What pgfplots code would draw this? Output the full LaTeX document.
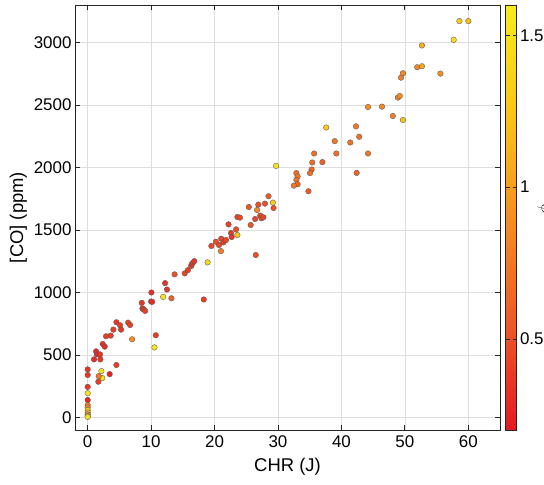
\documentclass[border=0pt]{standalone}
\usepackage{pgfplots}
\pgfplotsset{compat=1.18}
\usepackage{pgfplotstable}
\usepackage{fontspec}
\setmainfont{Liberation Sans}
\usetikzlibrary{calc}

% CHR (J), [CO] (ppm), colour value
\pgfplotstableread{
x y c
0 385 0.35
0 340 0.35
0 245 0.35
0 195 1.55
0 140 0.25
0 100 0.8
0 80 0.85
0 60 1.3
0 40 1.2
0 25 0.9
0 12 1.45
0 5 1.5
1.0 465 0.3
1.32 529 0.3
1.47 505 0.25
1.95 505 0.35
2.0 465 0.35
2.16 371 1.5
2.3 315 1.45
1.74 331 0.75
1.68 286 0.4
3.47 347 0.25
4.53 420 0.4
2.37 588 0.35
2.68 567 0.3
2.9 650 0.4
3.63 655 0.4
4.05 703 0.4
4.53 762 0.35
5.1 738 0.4
5.26 703 0.35
6.37 759 0.45
6.68 740 0.4
7.0 626 0.9
8.53 917 0.35
8.63 872 0.35
8.84 864 0.35
9.05 853 0.4
10.05 1000 0.3
10.0 928 0.25
10.15 925 0.3
10.74 658 0.4
10.53 561 1.55
11.9 965 1.5
13.2 954 0.6
12.2 1075 0.35
12.5 1024 0.35
13.7 1145 0.5
15.3 1153 0.45
15.8 1179 0.4
16.3 1211 0.45
16.4 1225 0.4
16.6 1238 0.35
16.8 1251 0.35
18.3 944 0.4
18.9 1241 1.4
19.5 1372 0.45
20.2 1406 0.5
20.7 1380 0.45
21.05 1430 0.45
21.4 1401 0.4
21.8 1420 0.45
21.0 1331 0.8
22.6 1476 0.4
22.7 1444 0.35
23.4 1505 0.5
23.6 1460 1.25
22.2 1545 0.4
23.6 1604 0.45
24.0 1599 0.45
25.4 1684 0.55
25.7 1540 0.55
26.5 1300 0.5
26.4 1588 0.45
26.7 1660 0.85
26.9 1703 0.5
27.2 1615 0.45
27.4 1594 0.45
27.7 1602 0.45
27.95 1711 0.5
28.5 1770 0.55
29.2 1719 1.3
29.3 1676 0.5
29.7 2013 1.55
32.9 1955 0.7
33.1 1928 0.75
32.9 1901 0.7
33.1 1866 0.65
32.5 1855 0.75
34.8 1810 0.55
35.4 2040 0.7
35.3 1984 0.65
35.05 1955 0.7
35.7 2112 0.7
37.0 2043 0.6
37.6 2320 1.3
38.95 2211 0.75
39.2 2112 0.7
41.4 2200 0.7
42.3 2329 0.75
42.8 2246 0.7
42.4 1957 0.6
44.2 2112 0.75
44.2 2484 0.9
46.4 2487 0.85
48.1 2412 0.8
49.7 2380 1.25
48.9 2559 0.85
49.2 2572 0.9
49.4 2719 0.8
49.7 2754 0.85
51.95 2802 0.85
52.7 2810 1.05
52.7 2976 1.1
55.6 2751 0.9
57.7 3021 1.45
58.6 3171 1.3
60.0 3171 1.2
}\codata

\begin{document}
\begin{tikzpicture}
\begin{axis}[
  name=main,
  scale only axis,
  width=425bp, height=425bp,
  xmin=-2, xmax=65, ymin=-100, ymax=3300,
  xtick={0,10,...,60}, ytick={0,500,...,3000},
  grid=major, grid style={black!13, line width=0.6bp},
  axis line style={black!85, line width=0.8bp},
  tick align=inside, major tick length=5bp,
  tick style={black!85, line width=0.8bp},
  /pgf/number format/assume math mode=true,
  scaled y ticks=false,
  yticklabel style={/pgf/number format/1000 sep={}},
  xticklabel style={yshift=-2bp},
  ticklabel style={font=\fontsize{17}{20}\selectfont},
  label style={font=\fontsize{18.5}{22}\selectfont},
  xlabel style={yshift=-4bp},
  xlabel={CHR (J)}, ylabel={[CO] (ppm)},
  colormap={co}{rgb255=(228,26,34) rgb255=(238,88,38) rgb255=(245,142,32) rgb255=(250,198,22) rgb255=(246,236,28)},
  point meta min=0.2, point meta max=1.6,
  colorbar,
  colorbar style={
    width=11bp,
    at={(parent axis.north east)}, anchor=north west, xshift=-3bp,
    ytick={0.5,1,1.5},
    tick align=inside, major tick length=4bp,
    axis line style={black!85, line width=0.8bp},
    tick style={black!85, line width=0.8bp},
    /pgf/number format/assume math mode=true,
    yticklabel style={font=\fontsize{17}{20}\selectfont},
  },
]
\addplot[scatter, only marks, mark=*, mark size=2.8bp, point meta=explicit,
  scatter/use mapped color={draw=black!65, fill=mapped color},
  mark options={line width=0.35bp}]
  table[x=x, y=y, meta=c]{\codata};
\end{axis}
\node[rotate=90, anchor=north, inner sep=0pt, font=\fontsize{18}{20}\selectfont]
  at ($(main.north east)+(37bp,-205bp)$) {$\phi$};
\pgfresetboundingbox
\useasboundingbox ($(main.south west)+(-75bp,-55bp)$) rectangle ($(main.north east)+(44bp,5bp)$);
\end{tikzpicture}
\end{document}
